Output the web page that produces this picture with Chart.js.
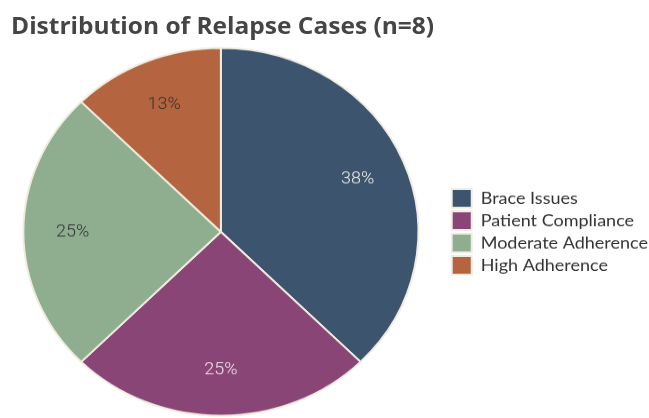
<!DOCTYPE html>
<html>
<head>
<meta charset="utf-8">
<script src="https://cdn.jsdelivr.net/npm/chart.js@4.4.1/dist/chart.umd.min.js"></script>
<style>
    html, body { margin: 0; padding: 0; background: #ffffff; overflow: hidden; }
    /* the reference is slightly squashed vertically, so the whole chart is too */
    #wrap {
        position: relative;
        width: 649px;
        height: 449px;
        overflow: hidden;
        transform: scaleY(0.931);
        transform-origin: 0 0;
    }
    #title {
        position: absolute;
        left: 11px;
        top: 12px;
        margin: 0;
        font-family: "Open Sans", Lato, sans-serif;
        font-weight: 700;
        font-size: 24.5px;
        line-height: 1.2;
        color: #454545;
        white-space: nowrap;
        z-index: 1;
    }
    /* canvas is a bit wider than the page and shifted left so the pie sits
       where it does in the reference while the legend hugs the right edge */
    #relapseChart { position: absolute; left: -6px; top: 0; }
</style>
</head>
<body>
<div id="wrap">
    <h1 id="title">Distribution of Relapse Cases (n=8)</h1>
    <canvas id="relapseChart" width="664" height="449"></canvas>
</div>
<script>
const categories = ["Brace Issues", "Patient Compliance", "Moderate Adherence", "High Adherence"];
const caseCounts = [3, 2, 2, 1];

const sliceColors = ["#3c546d", "#8a4577", "#8fae90", "#b4653f"];
const labelColors = ["#eeeeea", "#f1e6ee", "#333333", "#333333"];

// percentage labels inside each slice
const sliceLabels = {
    id: "sliceLabels",
    afterDatasetsDraw(chart) {
        const ctx = chart.ctx;
        const meta = chart.getDatasetMeta(0);
        const data = chart.data.datasets[0].data;
        const total = data.reduce((a, b) => a + b, 0);
        ctx.save();
        ctx.font = "300 18px Roboto, sans-serif";
        ctx.textAlign = "center";
        ctx.textBaseline = "middle";
        meta.data.forEach((arc, i) => {
            const p = arc.getProps(["x", "y", "startAngle", "endAngle", "outerRadius"], true);
            const mid = (p.startAngle + p.endAngle) / 2;
            const r = p.outerRadius * 0.75;
            ctx.fillStyle = labelColors[i];
            ctx.fillText(Math.round(data[i] / total * 100) + "%",
                p.x + Math.cos(mid) * r, p.y + Math.sin(mid) * r);
        });
        ctx.restore();
    }
};

new Chart(document.getElementById("relapseChart"), {
    type: "pie",
    data: {
        labels: categories,
        datasets: [{
            data: caseCounts,
            backgroundColor: sliceColors,
            borderColor: "#efece0",
            borderWidth: 2
        }]
    },
    options: {
        responsive: false,
        animation: false,
        layout: {
            padding: { top: 50.5, bottom: 1.5, left: 0, right: 0 }
        },
        plugins: {
            title: { display: false },
            tooltip: { enabled: false },
            legend: {
                position: "right",
                labels: {
                    boxWidth: 20,
                    boxHeight: 20,
                    padding: 4,
                    color: "#333333",
                    font: { family: "Lato, 'Open Sans', sans-serif", size: 18 }
                }
            }
        }
    },
    plugins: [sliceLabels]
});
</script>
</body>
</html>
